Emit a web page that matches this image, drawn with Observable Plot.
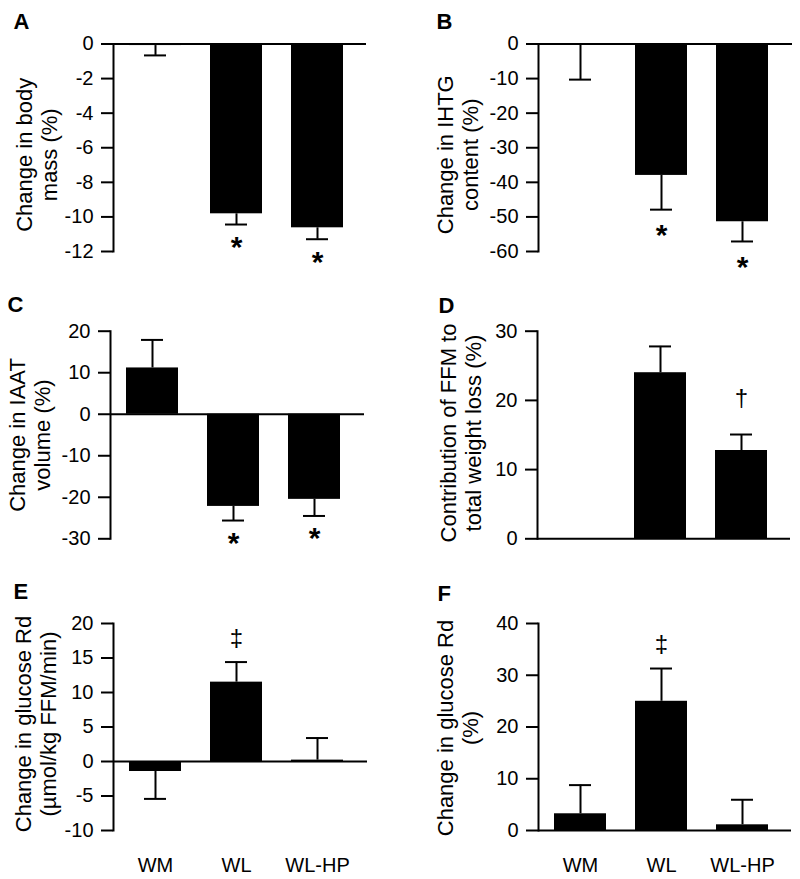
<!DOCTYPE html>
<html><head><meta charset="utf-8">
<script src="https://cdn.jsdelivr.net/npm/d3@7"></script>
<script src="https://cdn.jsdelivr.net/npm/@observablehq/plot@0.6"></script>
<style>
body{margin:0;background:#fff;}
#fig{position:relative;width:800px;height:879px;font-family:"Liberation Sans",Arial,sans-serif;}
#fig > svg{position:absolute;}
</style></head><body><div id="fig"></div>
<script>
// ---- data ----
const groups = ["WM", "WL", "WL-HP"];

const massMean = [-0.09, -9.82, -10.63];
const massSE   = [0.57, 0.62, 0.66];
const massMark = ["", "*", "*"];
const massTicks = [0, -2, -4, -6, -8, -10, -12];

const ihtgMean = [-0.4, -38.0, -51.4];
const ihtgSE   = [9.9, 9.9, 5.7];
const ihtgMark = ["", "*", "*"];
const ihtgTicks = [0, -10, -20, -30, -40, -50, -60];

const iaatMean = [11.15, -22.2, -20.5];
const iaatSE   = [6.75, 3.4, 4.0];
const iaatMark = ["", "*", "*"];
const iaatTicks = [20, 10, 0, -10, -20, -30];

const ffmMean = [null, 24.0, 12.76];
const ffmSE   = [null, 3.8, 2.31];
const ffmMark = ["", "", "\u2020"];
const ffmTicks = [30, 20, 10, 0];

const rdAbsMean = [-1.45, 11.5, 0.2];
const rdAbsSE   = [3.97, 2.91, 3.2];
const rdAbsMark = ["", "\u2021", ""];
const rdAbsTicks = [20, 15, 10, 5, 0, -5, -10];

const rdPctMean = [3.23, 24.97, 1.1];
const rdPctSE   = [5.54, 6.33, 4.84];
const rdPctMark = ["", "\u2021", ""];
const rdPctTicks = [40, 30, 20, 10, 0];

const FONT = '"Liberation Sans", Arial, sans-serif';
const fmt = d => (d < 0 ? "-" + Math.abs(d) : String(d));

function panel(p) {
  const rows = groups.map((g, i) => ({group: g, mean: p.mean[i], se: p.se[i], mark: p.marks[i]}))
    .filter(d => d.mean != null)
    .map(d => ({...d, end: d.mean + (d.mean < 0 ? -d.se : d.se)}));
  const below = rows.filter(d => d.mark && d.mean < 0);
  const above = rows.filter(d => d.mark && d.mean >= 0);
  const marks = [
    Plot.barY(rows, {x: "group", y: "mean", fill: "#000"}),
    Plot.ruleX(rows, {x: "group", y1: "mean", y2: "end", stroke: "#000", strokeWidth: 2}),
    Plot.tickY(rows, {x: "group", y: "end", stroke: "#000", strokeWidth: 2, insetLeft: 15, insetRight: 15}),
    Plot.ruleY([0], {stroke: "#000", strokeWidth: 2}),
    Plot.frame({anchor: "left", stroke: "#000", strokeWidth: 2}),
    Plot.axisY(p.ticks, {tickSize: 12, tickPadding: 8, strokeWidth: 2, tickFormat: fmt, fontSize: 20, label: null}),
    Plot.text(below, {x: "group", y: "end", text: "mark", dy: p.belowDy, lineAnchor: "top", fontSize: 30, fontWeight: "bold"}),
    Plot.text(above, {x: "group", y: "end", text: "mark", dy: -p.aboveDy, lineAnchor: "bottom", fontSize: 24}),
    Plot.text([p.label], {text: d => d, frameAnchor: "left", rotate: -90, dx: p.ldx, dy: p.ldy,
      textAnchor: "middle", lineAnchor: "top", fontSize: 22, lineHeight: 1.14}),
    Plot.text([p.letter], {text: d => d, frameAnchor: "top-left", dx: p.kdx, dy: p.kdy,
      textAnchor: "start", lineAnchor: "top", fontSize: 22, fontWeight: "bold"})
  ];
  if (p.xlabels) marks.push(Plot.axisX({tickSize: 0, tickPadding: 27, fontSize: 20, label: null}));
  const svg = Plot.plot({
    width: 400, height: p.h,
    marginLeft: p.ml, marginRight: p.mr, marginTop: p.mt, marginBottom: p.mb,
    style: {fontFamily: FONT, color: "#000", background: "transparent", overflow: "visible"},
    x: {domain: groups, paddingInner: 0.36, paddingOuter: 0.23, align: 0.4, axis: null},
    y: {domain: [d3.min(p.ticks), d3.max(p.ticks)], axis: null},
    marks
  });
  svg.style.left = p.left + "px";
  svg.style.top = p.top + "px";
  document.getElementById("fig").appendChild(svg);
}

panel({letter: "A", label: "Change in body\nmass (%)", mean: massMean, se: massSE, marks: massMark, ticks: massTicks,
  left: 0, top: 0, h: 290, ml: 113, mr: 34, mt: 43.5, mb: 39, ldx: -99, ldy: 7, kdx: -100, kdy: -31, belowDy: 11, aboveDy: 18});
panel({letter: "B", label: "Change in IHTG\ncontent (%)", mean: ihtgMean, se: ihtgSE, marks: ihtgMark, ticks: ihtgTicks,
  left: 400, top: 0, h: 290, ml: 138, mr: 8, mt: 43.5, mb: 39, ldx: -103, ldy: 7, kdx: -102, kdy: -31, belowDy: 14, aboveDy: 18});
panel({letter: "C", label: "Change in IAAT\nvolume (%)", mean: iaatMean, se: iaatSE, marks: iaatMark, ticks: iaatTicks,
  left: 0, top: 290, h: 290, ml: 110, mr: 36, mt: 40.7, mb: 41.7, ldx: -103, ldy: 0, kdx: -103, kdy: -35, belowDy: 11, aboveDy: 18});
panel({letter: "D", label: "Contribution of FFM to\ntotal weight loss (%)", mean: ffmMean, se: ffmSE, marks: ffmMark, ticks: ffmTicks,
  left: 400, top: 290, h: 290, ml: 137, mr: 10, mt: 40.7, mb: 41.7, ldx: -99, ldy: -2, kdx: -99, kdy: -34, belowDy: 11, aboveDy: 29});
panel({letter: "E", label: "Change in glucose Rd\n(\u00b5mol/kg FFM/min)", mean: rdAbsMean, se: rdAbsSE, marks: rdAbsMark, ticks: rdAbsTicks, xlabels: true,
  left: 0, top: 580, h: 299, ml: 113, mr: 33, mt: 43, mb: 49, ldx: -100, ldy: -3, kdx: -100, kdy: -40, belowDy: 11, aboveDy: 16.5});
panel({letter: "F", label: "Change in glucose Rd\n(%)", mean: rdPctMean, se: rdPctSE, marks: rdPctMark, ticks: rdPctTicks, xlabels: true,
  left: 400, top: 580, h: 299, ml: 138, mr: 9, mt: 43, mb: 49, ldx: -103, ldy: 1, kdx: -101, kdy: -38, belowDy: 11, aboveDy: 16.5});
</script></body></html>
